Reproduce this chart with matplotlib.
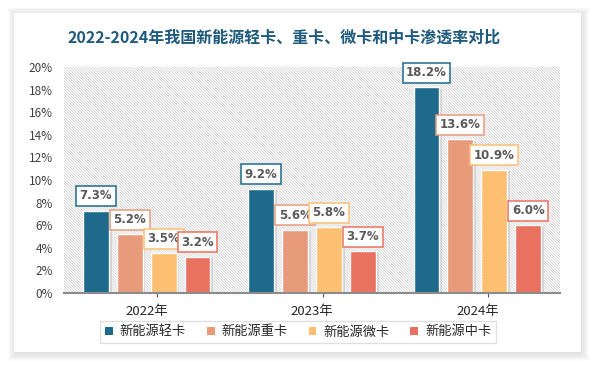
import matplotlib
matplotlib.use("Agg")
import matplotlib.pyplot as plt
import matplotlib.patches as mpatches
import matplotlib.patheffects as pe
from matplotlib.ticker import FuncFormatter, FixedLocator
import numpy as np

plt.rcParams['font.family'] = ['Noto Sans CJK SC', 'DejaVu Sans']
plt.rcParams['hatch.linewidth'] = 0.5

title = "2022-2024年我国新能源轻卡、重卡、微卡和中卡渗透率对比"
years = ["2022年", "2023年", "2024年"]
series_names = ["新能源轻卡", "新能源重卡", "新能源微卡", "新能源中卡"]
light = [7.3, 9.2, 18.2]
heavy = [5.2, 5.6, 13.6]
micro = [3.5, 5.8, 10.9]
medium = [3.2, 3.7, 6.0]
series_values = [light, heavy, micro, medium]
colors = ["#1e6a8d", "#e89b7b", "#fdc073", "#e9715f"]

W, H = 594, 366
fig = plt.figure(figsize=(W / 100, H / 100), dpi=100)
fig.patch.set_facecolor("white")

def px(x, y):
    return x / W, 1 - y / H

# card with soft shadow
cl, ct, cr, cb = 14, 13, 581, 352
for k in range(8, 0, -1):
    sh = mpatches.Rectangle(px(cl - k + 2, cb + k + 1), (cr - cl + 2 * k - 2) / W, (cb - ct + 2 * k - 1) / H,
                            transform=fig.transFigure, facecolor="#9a9a9a", edgecolor="none",
                            alpha=0.035, zorder=-3)
    fig.patches.append(sh)
card = mpatches.Rectangle(px(cl, cb), (cr - cl) / W, (cb - ct) / H, transform=fig.transFigure,
                          facecolor="white", edgecolor="none", zorder=-2)
fig.patches.append(card)

fig.text(px(284, 38)[0], px(284, 38)[1], title, ha="center", va="center",
         fontsize=11.5, fontweight="bold", color="#1d5a7e")

left, top = px(64, 67)
right, bottom = px(560, 293)
ax = fig.add_axes([left, bottom, right - left, top - bottom])
ax.set_zorder(2)
ax.set_facecolor("none")
ax.add_patch(mpatches.Rectangle((0, 0), 1, 1, transform=ax.transAxes, facecolor="white",
                                edgecolor="#cccccc", linewidth=0, hatch="\\" * 12, zorder=0))

x = np.arange(len(years))
step, width = 0.205, 0.157
shadow = [pe.SimplePatchShadow(offset=(2, -1), shadow_rgbFace="#8a8a8a", alpha=0.25), pe.Normal()]
for j, (name, vals, c) in enumerate(zip(series_names, series_values, colors)):
    pos = x + (j - 1.5) * step
    bars = ax.bar(pos, vals, width=width, color=c, edgecolor="white", linewidth=1.0,
                  label=name, zorder=3)
    for b in bars:
        b.set_path_effects(shadow)
    for p, v in zip(pos, vals):
        ax.annotate(f"{v:.1f}%", (p, v), xytext=(0, 10.5), textcoords="offset points",
                    ha="center", va="center", fontsize=8.5, fontweight="bold", color="#595959",
                    family=["DejaVu Sans"],
                    bbox=dict(boxstyle="square,pad=0.3", facecolor="white", edgecolor=c, linewidth=1.1),
                    zorder=5)

ax.set_xlim(-0.5, 2.5)
ax.set_ylim(0, 20)
ax.set_yticks(np.arange(0, 21, 2))
ax.yaxis.set_major_formatter(FuncFormatter(lambda v, _: f"{v:.0f}%"))
ax.tick_params(axis="y", length=0, pad=8, labelsize=8.5, labelcolor="#404040")
ax.set_xticks(x)
ax.set_xticklabels(years)
ax.tick_params(axis="x", length=0, pad=9, labelsize=9.5, labelcolor="#262626")
ax.xaxis.set_minor_locator(FixedLocator(x + 0.065))
ax.tick_params(axis="x", which="minor", length=3, color="#555555", width=0.8)
for s in ["top", "right", "left"]:
    ax.spines[s].set_visible(False)
ax.spines["bottom"].set_color("#8c8c8c")
ax.spines["bottom"].set_linewidth(1.5)
ax.spines["bottom"].set_zorder(4)

handles = [mpatches.Patch(facecolor=c, edgecolor="none") for c in colors]
leg = fig.legend(handles, series_names, loc="center", bbox_to_anchor=px(298, 332), ncol=4,
                 fontsize=9.5, frameon=True, fancybox=False, handlelength=0.6, handleheight=0.6,
                 handletextpad=0.5, columnspacing=1.6, borderpad=0.35)
leg.set_zorder(3)
leg.get_frame().set_edgecolor("#d9d9d9")
leg.get_frame().set_linewidth(1.0)
for t in leg.get_texts():
    t.set_color("#262626")

fig.savefig("out.png", dpi=100, facecolor=fig.get_facecolor())
